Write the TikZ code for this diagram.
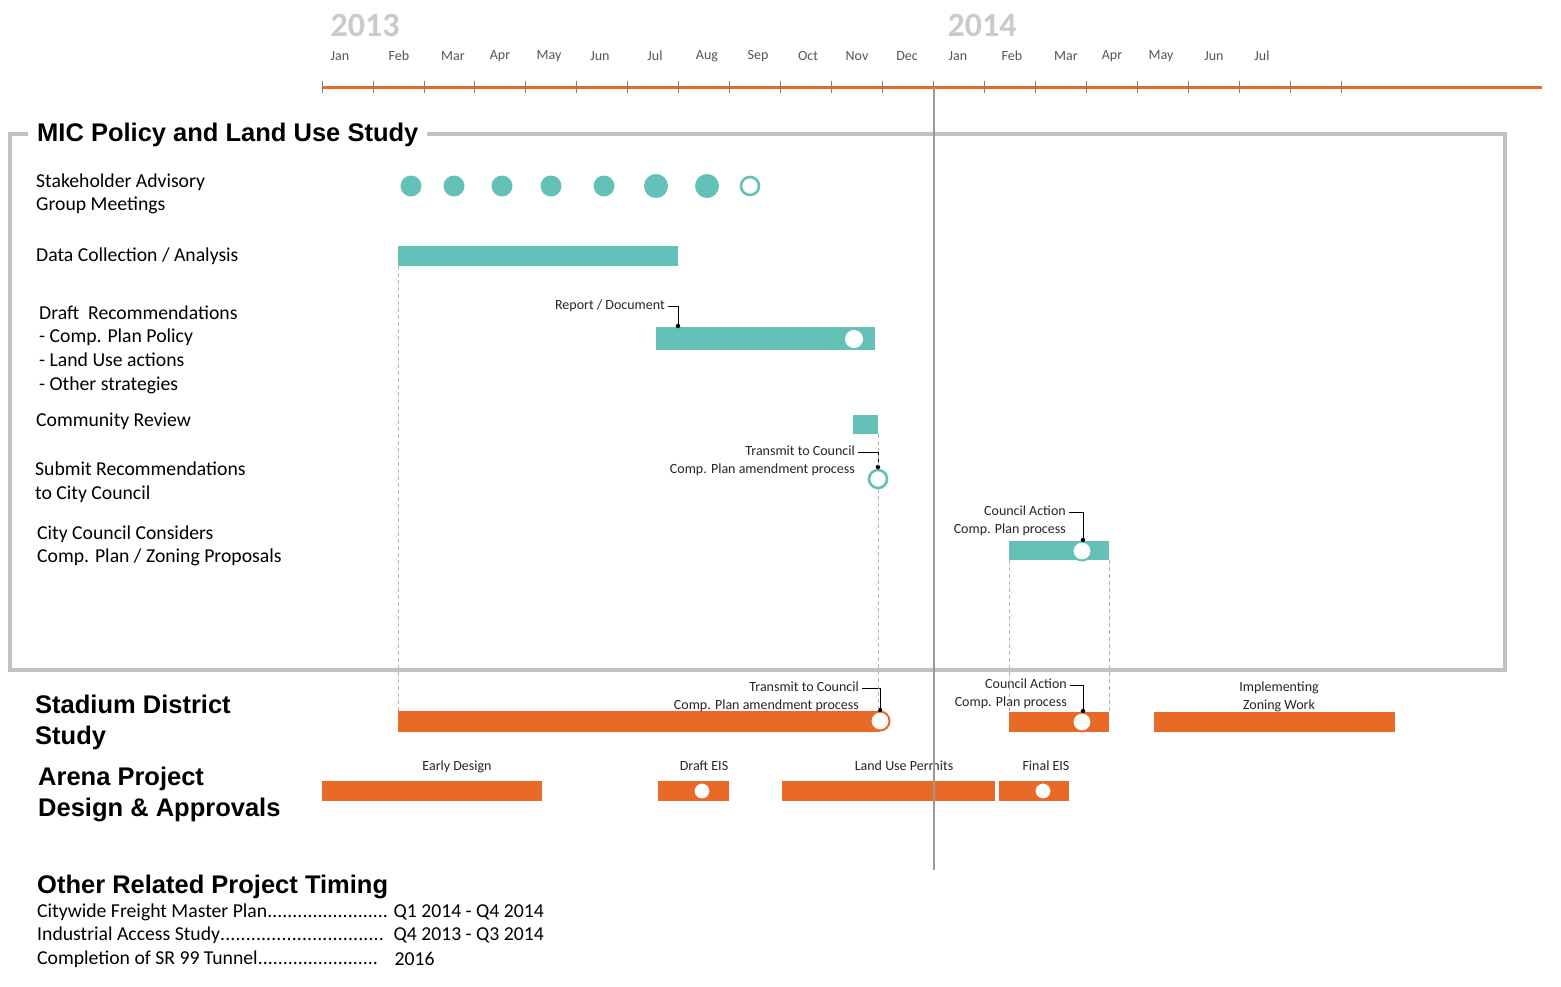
\documentclass[tikz,border=0pt]{standalone}
\usepackage{fontspec}
\setmainfont{Carlito}
\newfontfamily\headfont{Liberation Sans}
\usetikzlibrary{positioning}
\definecolor{mteal}{RGB}{99,193,184}
\definecolor{morange}{RGB}{233,106,38}
\definecolor{boxgray}{RGB}{192,194,197}
\definecolor{yeargray}{RGB}{200,203,206}
\definecolor{monthgray}{RGB}{85,85,85}

\begin{document}
\begin{tikzpicture}[x=1pt,y=-1pt,
  bar/.style={rectangle,anchor=north west,inner sep=0pt,outer sep=0pt,draw=none},
  tealbar/.style={bar,fill=mteal},
  orangebar/.style={bar,fill=morange},
  meet/.style={circle,fill=mteal,inner sep=0pt,minimum size=21pt},
  openring/.style={circle,draw=mteal,line width=2.6pt,fill=white,inner sep=0pt,minimum size=18pt},
  milestone/.style={circle,fill=white,inner sep=0pt,minimum size=19pt,line width=2pt},
  pin/.style={circle,fill=black,inner sep=0pt,minimum size=4.5pt},
  lead/.style={black,line width=0.8pt},
  guide/.style={gray!60,line width=0.8pt,dash pattern=on 4pt off 3pt},
  tick/.style={gray,line width=0.8pt},
  month/.style={font=\fontsize{14}{17}\selectfont,text=monthgray,inner sep=0pt},
  year/.style={font=\bfseries\fontsize{34}{40}\selectfont,text=yeargray,inner sep=0pt},
  row/.style={anchor=west,align=left,inner sep=0pt,font=\fontsize{19.7}{23.6}\selectfont},
  head/.style={anchor=west,align=left,inner sep=0pt,font=\headfont\bfseries\fontsize{25.5}{31}\selectfont},
  note/.style={inner sep=0pt,text height=10pt,text depth=3.5pt,font=\fontsize{14}{17}\selectfont,text=black!85}]

  \fill[white] (0,0) rectangle (1561,986);
  \useasboundingbox (0,0) rectangle (1561,986);

  % time axis
  \node[year] (y13) at (365,25) {2013};
  \node[year] (y14) at (982,25) {2014};
  \foreach \m/\x [count=\i] in {Jan/340,Feb/399,Mar/453,Apr/500,May/549,Jun/600,Jul/655,Aug/707,
      Sep/758,Oct/808,Nov/857,Dec/907,Jan/958,Feb/1012,Mar/1066,Apr/1112,May/1161,Jun/1214,Jul/1262}
    \node[month] (m\i) at (\x,56) {\m};
  \draw[morange,line width=3pt] (322,87) -- (1542,87);
  \foreach \i in {0,...,20}
    \draw[tick] ({322+50.95*\i},81) -- ++(0,12);

  % MIC box
  \draw[boxgray,line width=4pt] (10,134) rectangle (1505,670);
  \node[head,fill=white,inner xsep=9pt,inner ysep=3pt] (mic) at (28,135) {MIC Policy and Land Use Study};

  \node[row] (sag) at (36,194) {Stakeholder Advisory\\Group Meetings};
  \node[row] (data) at (36,256) {Data Collection / Analysis};
  \node[row] (draft) at (39,349.5) {Draft\ \ Recommendations\\- Comp. Plan Policy\\- Land Use actions\\- Other strategies};
  \node[row] (comm) at (36,421) {Community Review};
  \node[row] (submit) at (35,482) {Submit Recommendations\\to City Council};
  \node[row] (council) at (37,546) {City Council Considers\\Comp. Plan / Zoning Proposals};

  % stakeholder meetings
  \foreach \x/\s [count=\i] in {411/21,454/21,502/21,551/21,604/21,656/24,707/24}
    \node[meet,minimum size=\s pt] (sag\i) at (\x,186) {};
  \node[openring] (sag8) at (750,186) {};

  % MIC bars
  \node[tealbar,minimum width=280pt,minimum height=20pt] (datab) at (398,246) {};
  \node[tealbar,minimum width=219pt,minimum height=23pt] (draftb) at (656,327) {};
  \node[milestone,minimum size=18pt] (draftm) at (854,339) {};
  \node[tealbar,minimum width=25pt,minimum height=19pt] (commb) at (853,415) {};
  \node[openring] (subring) at (878,479) {};
  \node[tealbar,minimum width=100pt,minimum height=19pt] (councb) at (1009,541) {};
  \node[milestone,draw=mteal] (councm) at (1082,551) {};

  % MIC notes
  \node[note,anchor=east] (rep) at (665,306.5) {Report / Document};
  \coordinate (repdot) at (678,326);
  \draw[lead] ([xshift=3pt]rep.east) -| (repdot);
  \node[pin] at (repdot) {};

  \node[note,anchor=east] (tra) at (855,452.5) {Transmit to Council};
  \node[note,below=3.5pt of tra.south east,anchor=north east] (trb) {Comp. Plan amendment process};
  \coordinate (tradot) at (878,467);
  \draw[lead] ([xshift=3pt]tra.east) -| (tradot);
  \node[pin] at (tradot) {};

  \node[note,anchor=east] (caa) at (1066,512.5) {Council Action};
  \node[note,below=3.5pt of caa.south east,anchor=north east] (cab) {Comp. Plan process};
  \coordinate (cadot) at (1083,540);
  \draw[lead] ([xshift=3pt]caa.east) -| (cadot);
  \node[pin] at (cadot) {};

  % Stadium District Study
  \node[head] (stadium) at (35,722) {Stadium District\\Study};
  \node[orangebar,minimum width=482pt,minimum height=21pt] (stadb) at (398,711) {};
  \node[milestone,draw=morange] (stadm) at (880,721) {};
  \node[orangebar,minimum width=100pt,minimum height=20pt] (stcb) at (1009,712) {};
  \node[milestone,draw=morange] (stcm) at (1082,722) {};
  \node[orangebar,minimum width=241pt,minimum height=20pt] (zoneb) at (1154,712) {};

  \node[note,anchor=east] (sta) at (859,688.5) {Transmit to Council};
  \node[note,below=3.5pt of sta.south east,anchor=north east] (stb) {Comp. Plan amendment process};
  \coordinate (stdot) at (880,710);
  \draw[lead] ([xshift=3pt]sta.east) -| (stdot);
  \node[pin] at (stdot) {};

  \node[note,anchor=east] (sca) at (1067,685.5) {Council Action};
  \node[note,below=3.5pt of sca.south east,anchor=north east] (scb) {Comp. Plan process};
  \coordinate (scdot) at (1083,711);
  \draw[lead] ([xshift=3pt]sca.east) -| (scdot);
  \node[pin] at (scdot) {};

  \node[note] (zonea) at (1279,688.5) {Implementing};
  \node[note,below=3.5pt of zonea] (zoneb2) {Zoning Work};

  % Arena Project
  \node[head] (arena) at (38,794) {Arena Project\\Design \& Approvals};
  \node[orangebar,minimum width=220pt,minimum height=20pt] (early) at (322,781) {};
  \node[orangebar,minimum width=71pt,minimum height=20pt] (deis) at (658,781) {};
  \node[orangebar,minimum width=213pt,minimum height=20pt] (lup) at (782,781) {};
  \node[orangebar,minimum width=70pt,minimum height=20pt] (feis) at (999,781) {};
  \node[milestone,draw=morange,minimum size=17pt] (deism) at (702,791) {};
  \node[milestone,draw=morange,minimum size=17pt] (feism) at (1043,791) {};
  \node[note] (earlyl) at (457,767.5) {Early Design};
  \node[note] (deisl) at (704,767.5) {Draft EIS};
  \node[note] (lupl) at (904,767.5) {Land Use Permits};
  \node[note] (feisl) at (1046,767.5) {Final EIS};

  % guide lines
  \draw[guide] (datab.south west) -- (stadb.north west);
  \draw[guide] (commb.south east) -- (subring.north);
  \draw[guide] (subring.south) -- (subring.south |- stadb.north);
  \draw[guide] (councb.south west) -- (stcb.north west);
  \draw[guide] (councb.south east) -- (stcb.north east);

  % today line
  \draw[gray!80,line width=1.2pt] (934,87) -- (934,870);

  % other projects
  \node[head] (other) at (37,887) {Other Related Project Timing};
  \node[row] (cfmp) at (37,912) {\hbox to 351pt{Citywide Freight Master Plan\xleaders\hbox{.}\hfill}};
  \node[row,right=5pt of cfmp] (cfmpd) {Q1 2014 - Q4 2014};
  \node[row] (ias) at (37,935.5) {\hbox to 347pt{Industrial Access Study\xleaders\hbox{.}\hfill}};
  \node[row,right=9pt of ias] (iasd) {Q4 2013 - Q3 2014};
  \node[row] (sr99) at (37,959) {\hbox to 341pt{Completion of SR 99 Tunnel\xleaders\hbox{.}\hfill}};
  \node[row,right=16pt of sr99] (sr99d) {2016};
\end{tikzpicture}
\end{document}
